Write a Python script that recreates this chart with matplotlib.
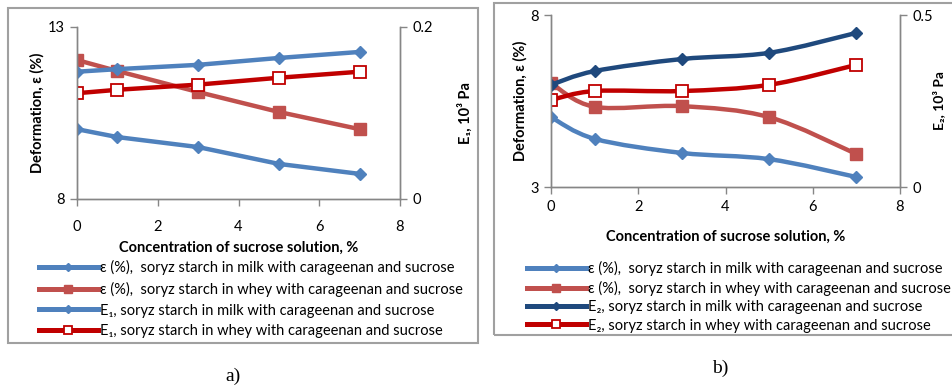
import matplotlib
matplotlib.use('Agg')
import matplotlib.pyplot as plt
from matplotlib.lines import Line2D
from matplotlib.path import Path
from matplotlib.patches import PathPatch, Rectangle

plt.rcParams['font.family'] = ['Lato', 'DejaVu Sans']

# sucrose concentration, %
conc = [0, 1, 3, 5, 7]

# panel a
eps_milk_a = [10.03, 9.80, 9.51, 9.02, 8.73]
eps_whey_a = [12.04, 11.72, 11.11, 10.53, 10.03]
e1_milk = [0.148, 0.151, 0.156, 0.164, 0.171]
e1_whey = [0.123, 0.127, 0.133, 0.141, 0.148]

# panel b
eps_milk_b = [5.03, 4.40, 3.99, 3.81, 3.29]
eps_whey_b = [6.02, 5.33, 5.35, 5.03, 3.96]
e2_milk = [0.297, 0.337, 0.372, 0.390, 0.448]
e2_whey = [0.253, 0.279, 0.279, 0.297, 0.355]

labels_a = ['ε (%),  soryz starch in milk with carageenan and sucrose',
            'ε (%),  soryz starch in whey with carageenan and sucrose',
            'E\u2081, soryz starch in milk with carageenan and sucrose',
            'E\u2081, soryz starch in whey with carageenan and sucrose']
labels_b = ['ε (%),  soryz starch in milk with carageenan and sucrose',
            'ε (%),  soryz starch in whey with carageenan and sucrose',
            'E\u2082, soryz starch in milk with carageenan and sucrose',
            'E\u2082, soryz starch in whey with carageenan and sucrose']

BLUE = '#4F81BD'
RED = '#C0504D'
DBLUE = '#1F497D'
DRED = '#C00000'
GRID = '#868686'

styles = [
    dict(color=BLUE, marker='D', ms=6, mfc=BLUE, mec=BLUE),
    dict(color=RED, marker='s', ms=8, mfc=RED, mec=RED),
    dict(color=BLUE, marker='D', ms=6, mfc=BLUE, mec=BLUE),
    dict(color=DRED, marker='s', ms=8, mfc='white', mec=DRED, mew=1.3),
]


def smooth(ax, x, y, st):
    # excel-like smoothed line drawn as bezier path through the points
    pts = list(zip(x, y))
    n = len(pts)
    verts = [pts[0]]
    codes = [Path.MOVETO]
    for i in range(n - 1):
        p0 = pts[max(i - 1, 0)]
        p1 = pts[i]
        p2 = pts[i + 1]
        p3 = pts[min(i + 2, n - 1)]
        c1 = (p1[0] + (p2[0] - p0[0]) / 6, p1[1] + (p2[1] - p0[1]) / 6)
        c2 = (p2[0] - (p3[0] - p1[0]) / 6, p2[1] - (p3[1] - p1[1]) / 6)
        verts += [c1, c2, p2]
        codes += [Path.CURVE4] * 3
    ax.add_patch(PathPatch(Path(verts, codes), fc='none', ec=st['color'], lw=3.2,
                           capstyle='round', joinstyle='round'))
    ax.plot(x, y, ls='none', marker=st['marker'], ms=st['ms'], mfc=st['mfc'],
            mec=st['mec'], mew=st.get('mew', 1))


def style_axes(ax, ax2, ylim, y2lim):
    ax.set_xlim(0, 8)
    ax.set_ylim(*ylim)
    ax2.set_ylim(*y2lim)
    ax.set_xticks([0, 2, 4, 6, 8])
    ax.set_yticks(list(ylim))
    ax2.set_yticks(list(y2lim))
    ax2.set_yticklabels([('%g' % v) for v in y2lim])
    for a in (ax, ax2):
        a.spines['top'].set_visible(False)
        for s in ('left', 'right', 'bottom'):
            a.spines[s].set_color(GRID)
            a.spines[s].set_linewidth(1)
        a.tick_params(direction='out', length=5, width=1, color=GRID,
                      labelsize=10.5, pad=4)
    ax.tick_params(axis='x', pad=10)
    ax.patch.set_visible(False)


fig = plt.figure(figsize=(9.52, 3.88), dpi=100)

# frames around panels
fig.patches.append(Rectangle((8 / 952, 1 - 343 / 388), 470 / 952, 335 / 388,
                             transform=fig.transFigure, fc='none', ec='#a0a0a0', lw=1.5))
fig.patches.append(Rectangle((494 / 952, 1 - 335 / 388), 470 / 952, 332 / 388,
                             transform=fig.transFigure, fc='none', ec='#a0a0a0', lw=1.5))

# ---- panel a ----
axa = fig.add_axes([77 / 952, 1 - 199 / 388, 323 / 952, 172 / 388])
axa2 = axa.twinx()
axa.set_zorder(axa2.get_zorder() - 1)
axa2.patch.set_visible(False)
axa.plot(conc, eps_milk_a, lw=3.2, **styles[0])
axa.plot(conc, eps_whey_a, lw=3.2, **styles[1])
axa2.plot(conc, e1_milk, lw=3.2, **styles[2])
axa2.plot(conc, e1_whey, lw=3.2, **styles[3])
style_axes(axa, axa2, (8, 13), (0, 0.2))
axa.set_ylabel('Deformation, ε (%)', fontsize=10.5, fontweight='bold', labelpad=2)
axa2.set_ylabel('E\u2081, 10³ Pa', fontsize=10.5, fontweight='bold', labelpad=18)
axa.set_xlabel('Concentration of sucrose solution, %', fontsize=10.5,
               fontweight='bold', labelpad=5)

hands_a = [Line2D([], [], lw=3.6, **st) for st in styles]
fig.legend(hands_a, labels_a, loc='upper left', bbox_to_anchor=(32 / 952, 1 - 253 / 388),
           frameon=False, fontsize=10.5, handlelength=4.0, handletextpad=0.15,
           labelspacing=0.45, borderpad=0, markerscale=0.75)

# ---- panel b ----
styles_b = [dict(styles[0]), dict(styles[1]), dict(styles[2]), dict(styles[3])]
styles_b[2].update(color=DBLUE, mfc=DBLUE, mec=DBLUE)

axb = fig.add_axes([551 / 952, 1 - 187 / 388, 349 / 952, 172 / 388])
axb2 = axb.twinx()
axb.set_zorder(axb2.get_zorder() - 1)
axb2.patch.set_visible(False)
smooth(axb, conc, eps_milk_b, styles_b[0])
smooth(axb, conc, eps_whey_b, styles_b[1])
smooth(axb2, conc, e2_milk, styles_b[2])
smooth(axb2, conc, e2_whey, styles_b[3])
style_axes(axb, axb2, (3, 8), (0, 0.5))
axb.tick_params(axis='x', pad=4)
axb.set_ylabel('Deformation, ε (%)', fontsize=10.5, fontweight='bold', labelpad=2)
axb2.set_ylabel('E\u2082, 10³ Pa', fontsize=10, fontweight='bold', labelpad=-1)
axb.set_xlabel('Concentration of sucrose solution, %', fontsize=10.5,
               fontweight='bold', labelpad=12)

hands_b = [Line2D([], [], lw=3.6, **st) for st in styles_b]
fig.legend(hands_b, labels_b, loc='upper left', bbox_to_anchor=(520 / 952, 1 - 254 / 388),
           frameon=False, fontsize=10.5, handlelength=4.0, handletextpad=0.15,
           labelspacing=0.3, borderpad=0, markerscale=0.75)

fig.text(233 / 952, 1 - 376 / 388, 'a)', family='Liberation Serif', fontsize=14,
         ha='center', va='center')
fig.text(720 / 952, 1 - 368 / 388, 'b)', family='Liberation Serif', fontsize=14,
         ha='center', va='center')

fig.savefig('out.png', dpi=100)
